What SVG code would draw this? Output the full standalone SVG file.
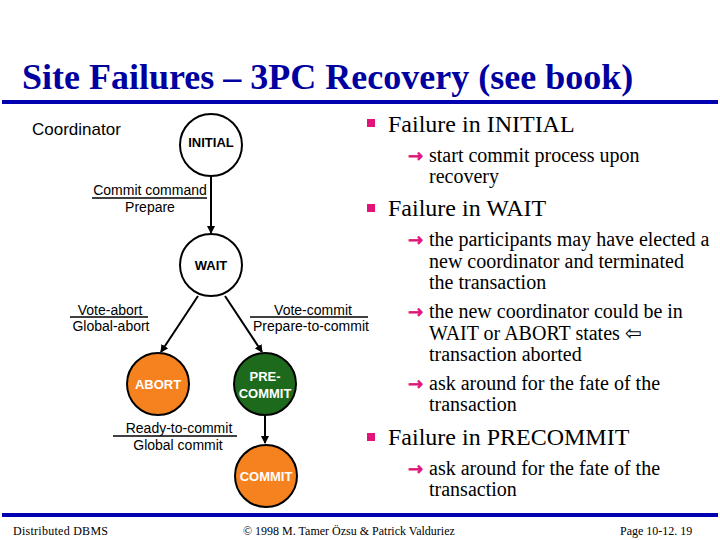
<svg xmlns="http://www.w3.org/2000/svg" width="720" height="540" viewBox="0 0 720 540">
<style>
.title{font-family:"Liberation Serif","Times New Roman",serif;font-weight:bold;font-size:36px;fill:#0000a0}
.foot{font-family:"Liberation Serif","Times New Roman",serif;font-size:12px;fill:#000}
.lbl{font-family:"Liberation Sans",Arial,sans-serif;font-size:14px;fill:#000;text-anchor:middle}
.node{font-family:"Liberation Sans",Arial,sans-serif;font-size:13px;font-weight:bold;text-anchor:middle}
.b1{font-family:"Liberation Serif","Times New Roman",serif;font-size:24px;fill:#000}
.b2{font-family:"Liberation Serif","Times New Roman",serif;font-size:20px;fill:#000}
.arr{font-family:"DejaVu Sans",sans-serif;font-size:18px;fill:#e0147a;stroke:#e0147a;stroke-width:0.8}
.edge{stroke:#000;stroke-width:2;fill:none;marker-end:url(#ah)}
.rule{stroke:#000;stroke-width:1.5}
</style>
<defs>
<marker id="ah" markerWidth="8" markerHeight="8" refX="7" refY="4" orient="auto" markerUnits="userSpaceOnUse">
<path d="M0,0 L8,4 L0,8 Z" fill="#000"/>
</marker>
</defs>
<rect width="720" height="540" fill="#fff"/>
<text class="title" x="22" y="89">Site Failures – 3PC Recovery (see book)</text>
<rect x="2" y="100" width="716" height="4" fill="#0000b0"/>
<rect x="2" y="513" width="716" height="4" fill="#0000b0"/>
<text class="foot" x="13" y="535" textLength="95">Distributed DBMS</text>
<text class="foot" x="243" y="535">© 1998 M. Tamer Özsu &amp; Patrick Valduriez</text>
<text class="foot" x="620" y="535">Page 10-12. 19</text>

<text x="32" y="135" style="font-family:'Liberation Sans',Arial,sans-serif;font-size:17px">Coordinator</text>

<g id="connectors">
<line class="edge" x1="211" y1="175" x2="211" y2="233"/>
<line class="edge" x1="198" y1="296" x2="161" y2="352"/>
<line class="edge" x1="225" y1="296" x2="262" y2="352"/>
<line class="edge" x1="265" y1="416" x2="265" y2="443"/>
<g id="lbl-commit">
<text class="lbl" x="150" y="195">Commit command</text>
<line class="rule" x1="92" y1="198" x2="207" y2="198"/>
<text class="lbl" x="150" y="212">Prepare</text>
</g>
<g id="lbl-abort">
<text class="lbl" x="110" y="315">Vote-abort</text>
<line class="rule" x1="70" y1="317" x2="148" y2="317"/>
<text class="lbl" x="111" y="331">Global-abort</text>
</g>
<g id="lbl-vcommit">
<text class="lbl" x="313" y="315">Vote-commit</text>
<line class="rule" x1="250" y1="317" x2="368" y2="317"/>
<text class="lbl" x="311" y="331">Prepare-to-commit</text>
</g>
<g id="lbl-ready">
<text class="lbl" x="179" y="433">Ready-to-commit</text>
<line class="rule" x1="113" y1="436" x2="237" y2="436"/>
<text class="lbl" x="178" y="450">Global commit</text>
</g>
</g>

<g id="initial">
<circle cx="211" cy="145" r="31" fill="#fff" stroke="#000" stroke-width="2"/>
<text class="node" x="211" y="147" fill="#000">INITIAL</text>
</g>
<g id="wait">
<circle cx="211" cy="265" r="31" fill="#fff" stroke="#000" stroke-width="2"/>
<text class="node" x="211" y="270" fill="#000">WAIT</text>
</g>
<g id="abort">
<circle cx="158" cy="384" r="31" fill="#f5821f" stroke="#000" stroke-width="2"/>
<text class="node" x="158" y="389" fill="#fff">ABORT</text>
</g>
<g id="precommit">
<circle cx="265" cy="384" r="31" fill="#1d6a1d" stroke="#000" stroke-width="2"/>
<text class="node" x="265" y="381" fill="#fff">PRE-</text>
<text class="node" x="265" y="398" fill="#fff">COMMIT</text>
</g>
<g id="commit">
<circle cx="266" cy="476" r="31" fill="#f5821f" stroke="#000" stroke-width="2"/>
<text class="node" x="266" y="481" fill="#fff">COMMIT</text>
</g>

<g id="bullets">
<rect x="367" y="119" width="8" height="8" fill="#e0147a"/>
<text class="b1" x="388" y="132">Failure in INITIAL</text>
<text class="arr" x="408" y="162">→</text>
<text class="b2" x="429" y="162">start commit process upon</text>
<text class="b2" x="429" y="183">recovery</text>
<rect x="367" y="204" width="8" height="8" fill="#e0147a"/>
<text class="b1" x="388" y="216">Failure in WAIT</text>
<text class="arr" x="408" y="246">→</text>
<text class="b2" x="429" y="246">the participants may have elected a</text>
<text class="b2" x="429" y="268">new coordinator and terminated</text>
<text class="b2" x="429" y="289">the transaction</text>
<text class="arr" x="408" y="318">→</text>
<text class="b2" x="429" y="318">the new coordinator could be in</text>
<text class="b2" x="429" y="340">WAIT or ABORT states <tspan style="font-family:'DejaVu Sans',sans-serif;font-size:20px">⇦</tspan></text>
<text class="b2" x="429" y="361">transaction aborted</text>
<text class="arr" x="408" y="390">→</text>
<text class="b2" x="429" y="390">ask around for the fate of the</text>
<text class="b2" x="429" y="411">transaction</text>
<rect x="367" y="433" width="8" height="8" fill="#e0147a"/>
<text class="b1" x="388" y="445">Failure in PRECOMMIT</text>
<text class="arr" x="408" y="475">→</text>
<text class="b2" x="429" y="475">ask around for the fate of the</text>
<text class="b2" x="429" y="496">transaction</text>
</g>
</svg>
